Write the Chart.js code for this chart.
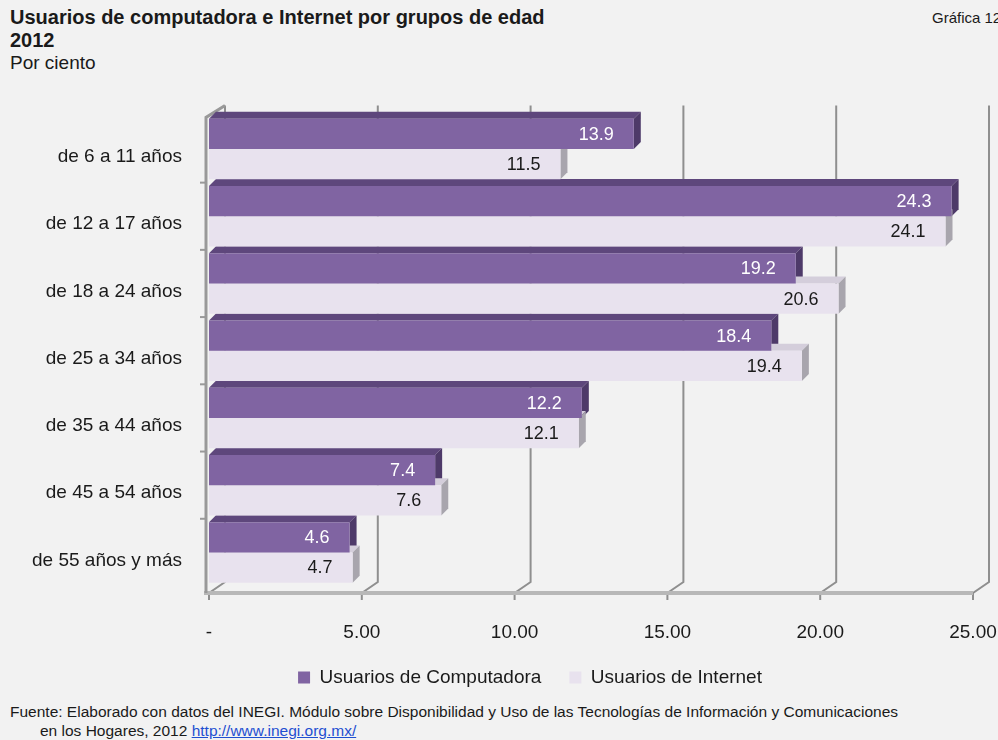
<!DOCTYPE html>
<html lang="es">
<head>
<meta charset="utf-8">
<title>Usuarios de computadora e Internet por grupos de edad</title>
<script src="https://cdn.jsdelivr.net/npm/chart.js@4/dist/chart.umd.min.js"></script>
<style>
    html, body { margin: 0; padding: 0; }
    body {
        width: 998px; height: 740px; overflow: hidden; position: relative;
        background: #f2f2f2; font-family: "Liberation Sans", Arial, sans-serif; color: #1a1a1a;
    }
    .title { position: absolute; left: 10px; top: 6px; font-size: 20px; font-weight: bold; line-height: 23px; }
    .units { position: absolute; left: 10px; top: 52px; font-size: 19px; }
    .num { position: absolute; left: 932px; top: 9px; font-size: 15px; white-space: nowrap; }
    .chartBox { position: absolute; left: 0; top: 85px; width: 1040px; height: 612px; }
    .source { position: absolute; left: 10px; top: 702px; font-size: 15.5px; line-height: 19px; white-space: nowrap; }
    .source .l2 { padding-left: 30px; }
    .source a { color: #1f4fd1; }
</style>
</head>
<body>
<div class="title">Usuarios de computadora e Internet por grupos de edad<br>2012</div>
<div class="units">Por ciento</div>
<div class="num">Gráfica 12</div>
<div class="chartBox"><canvas id="chart"></canvas></div>
<div class="source">
    Fuente: Elaborado con datos del INEGI. Módulo sobre Disponibilidad y Uso de las Tecnologías de Información y Comunicaciones<br>
    <span class="l2">en los Hogares, 2012 <a href="#">http://www.inegi.org.mx/</a></span>
</div>

<script>
const ageGroups = ["de 6 a 11 años", "de 12 a 17 años", "de 18 a 24 años", "de 25 a 34 años",
                   "de 35 a 44 años", "de 45 a 54 años", "de 55 años y más"];
const computerUsers = [13.9, 24.3, 19.2, 18.4, 12.2, 7.4, 4.6];
const internetUsers = [11.5, 24.1, 20.6, 19.4, 12.1, 7.6, 4.7];
const xTicks = [0, 5, 10, 15, 20, 25];

const FONT = "'Liberation Sans', Arial, sans-serif";

// extra faces drawn behind each bar to fake the extruded look
const depth = 7;
const barDepth = {
    id: "barDepth",
    beforeDatasetsDraw(chart) {
        const ctx = chart.ctx;
        const faces = [["#5e477c", "#4e3a69"], ["#d4cedb", "#a8a5ad"]];
        chart.data.datasets.forEach((ds, di) => {
            chart.getDatasetMeta(di).data.forEach(bar => {
                const top = bar.y - bar.height / 2, bottom = bar.y + bar.height / 2;
                const x0 = bar.base, x1 = bar.x;
                ctx.save();
                ctx.fillStyle = faces[di][0];
                ctx.beginPath();
                ctx.moveTo(x0, top);
                ctx.lineTo(x0 + depth, top - depth);
                ctx.lineTo(x1 + depth, top - depth);
                ctx.lineTo(x1, top);
                ctx.closePath();
                ctx.fill();
                ctx.fillStyle = faces[di][1];
                ctx.beginPath();
                ctx.moveTo(x1, top);
                ctx.lineTo(x1 + depth, top - depth);
                ctx.lineTo(x1 + depth, bottom - depth);
                ctx.lineTo(x1, bottom);
                ctx.closePath();
                ctx.fill();
                ctx.restore();
            });
        });
    }
};

// back wall grid, floor and left wall
const wallDx = 16, wallDy = 11;
const walls = {
    id: "walls",
    beforeDatasetsDraw(chart) {
        const ctx = chart.ctx;
        const xs = chart.scales.x, area = chart.chartArea;
        const top = area.top - 10, floor = area.bottom + 7;
        const x0 = xs.getPixelForValue(0);
        ctx.save();
        ctx.strokeStyle = "#8f8f8f";
        ctx.lineWidth = 2;
        xTicks.forEach(v => {
            const x = xs.getPixelForValue(v);
            ctx.beginPath();
            ctx.moveTo(x + wallDx, top);
            ctx.lineTo(x + wallDx, floor - wallDy);
            ctx.lineTo(x, floor);
            ctx.lineTo(x, floor + 7);
            ctx.stroke();
        });
        ctx.strokeStyle = "#b8b8b8";
        ctx.lineWidth = 4;
        ctx.beginPath();
        ctx.moveTo(x0 - 5, floor);
        ctx.lineTo(xs.getPixelForValue(25), floor);
        ctx.stroke();
        // left wall
        ctx.strokeStyle = "#999999";
        ctx.lineWidth = 3;
        ctx.beginPath();
        ctx.moveTo(x0 + wallDx, top);
        ctx.lineTo(x0 - 3, top + 12);
        ctx.lineTo(x0 - 3, floor);
        ctx.stroke();
        ctx.lineWidth = 2;
        const step = (area.bottom - area.top) / ageGroups.length;
        for (let i = 1; i < ageGroups.length; i++) {
            const y = area.top + i * step;
            ctx.beginPath();
            ctx.moveTo(x0 - 9, y);
            ctx.lineTo(x0 - 3, y);
            ctx.stroke();
        }
        ctx.restore();
    }
};

const valueLabels = {
    id: "valueLabels",
    afterDatasetsDraw(chart) {
        const ctx = chart.ctx;
        ctx.save();
        ctx.font = "18px " + FONT;
        ctx.textAlign = "right";
        ctx.textBaseline = "middle";
        chart.data.datasets.forEach((ds, di) => {
            ctx.fillStyle = di === 0 ? "#ffffff" : "#1a1a1a";
            chart.getDatasetMeta(di).data.forEach((bar, i) => {
                ctx.fillText(ds.data[i].toFixed(1), bar.x - 20, bar.y + 1);
            });
        });
        ctx.restore();
    }
};

new Chart(document.getElementById("chart"), {
    type: "bar",
    data: {
        labels: ageGroups,
        datasets: [
            { label: "Usuarios de Computadora", data: computerUsers, backgroundColor: "#8064a2" },
            { label: "Usuarios de Internet", data: internetUsers, backgroundColor: "#e8e2ee" }
        ]
    },
    options: {
        indexAxis: "y",
        animation: false,
        responsive: true,
        maintainAspectRatio: false,
        layout: { padding: { top: 29, left: 30, right: 10 } },
        datasets: { bar: { categoryPercentage: 0.9, barPercentage: 1.0 } },
        scales: {
            x: {
                min: 0, max: 25,
                afterBuildTicks: s => { s.ticks = xTicks.map(v => ({ value: v })); },
                afterFit: s => { s.height = 54; s.paddingRight = 67; },
                grid: { display: false },
                border: { display: false },
                ticks: {
                    padding: 27,
                    color: "#1a1a1a",
                    font: { family: FONT, size: 19 },
                    callback: v => v === 0 ? "-" : v.toFixed(2)
                }
            },
            y: {
                afterFit: s => { s.width = 179; },
                grid: { display: false },
                border: { display: false },
                ticks: {
                    padding: 19,
                    labelOffset: 8,
                    color: "#1a1a1a",
                    font: { family: FONT, size: 19 }
                }
            }
        },
        plugins: {
            legend: {
                position: "bottom",
                labels: {
                    boxWidth: 12, boxHeight: 12, padding: 28,
                    color: "#1a1a1a",
                    font: { family: FONT, size: 19 }
                }
            },
            tooltip: { enabled: false }
        }
    },
    plugins: [walls, barDepth, valueLabels]
});
</script>
</body>
</html>
